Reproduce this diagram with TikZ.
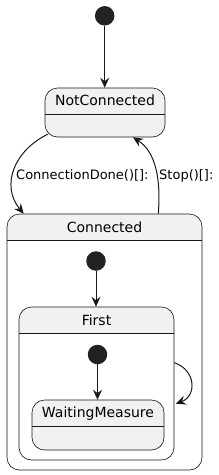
\documentclass[tikz,border=0pt]{standalone}
\usepackage{fontspec}
\setmainfont{DejaVu Sans}
\usetikzlibrary{arrows.meta,calc}
\definecolor{sfill}{HTML}{F1F1F1}
\definecolor{sline}{HTML}{181818}
\definecolor{dotc}{HTML}{222222}
\begin{document}
\begin{tikzpicture}[x=1pt,y=-1pt,
  hdrline/.style={draw=sline,line width=0.6pt,sharp corners},
  simplestate/.style={draw=sline,line width=0.6pt,fill=sfill,rounded corners=12.5pt,inner sep=0pt,
    path picture={\draw[hdrline] ([yshift=-26pt]path picture bounding box.north west) -- ([yshift=-26pt]path picture bounding box.north east);}},
  compstate/.style={draw=sline,line width=0.6pt,fill=white,rounded corners=12.5pt,inner sep=0pt,
    path picture={\fill[sfill,sharp corners] (path picture bounding box.north west) rectangle ([yshift=-26pt]path picture bounding box.north east);
      \draw[hdrline] ([yshift=-26pt]path picture bounding box.north west) -- ([yshift=-26pt]path picture bounding box.north east);}},
  sname/.style={font=\fontsize{14}{16}\selectfont,inner sep=0pt,text=black},
  elbl/.style={font=\fontsize{13}{15}\selectfont,inner sep=0pt,text=black},
  initdot/.style={circle,fill=dotc,minimum size=19.5pt,inner sep=0pt},
  trans/.style={draw=sline,line width=1pt,-{Stealth[length=10pt,width=9pt,inset=3.5pt]}}
]
\useasboundingbox (0,0) rectangle (218,475);

% states
\node[simplestate,minimum width=120pt,minimum height=49pt] (nc) at (105,112.5) {};
\node[sname] (tnc) at (105,100.5) {NotConnected};

\node[compstate,minimum width=195pt,minimum height=256pt] (con) at (104.5,342) {};
\node[sname] (tcon) at (104.5,227.5) {Connected};

\node[compstate,minimum width=155pt,minimum height=153pt] (first) at (96.5,383.5) {};
\node[sname] (tfirst) at (96.5,320.5) {First};

\node[simplestate,minimum width=132pt,minimum height=50pt] (wm) at (98,425) {};
\node[sname] (twm) at (98,414) {WaitingMeasure};

% initial dots
\node[initdot] (i1) at (104.7,15.8) {};
\node[initdot] (i2) at (96,261) {};
\node[initdot] (i3) at (97.5,354.5) {};

% transitions
\draw[trans] (i1.south) -- (i1.south |- nc.north);
\draw[trans] (i2.south) -- (i2.south |- first.north);
\draw[trans] (i3.south) -- (i3.south |- wm.north);

\coordinate (cdA) at ([shift={(3pt,3pt)}]nc.south west);
\coordinate (cdB) at ([xshift=17pt]con.north west);
\draw[trans] (cdA) .. controls (15,150) and (0,185) .. (cdB);

\coordinate (stA) at ([xshift=-44pt]con.north east);
\coordinate (stB) at ([xshift=28pt]nc.south);
\draw[trans] (stA) .. controls (161,180) and (156,152) .. (stB);

\coordinate (slA) at ([yshift=-56pt]first.north east);
\coordinate (slB) at ([shift={(1.5pt,-97pt)}]first.north east);
\draw[trans] (slA) .. controls (196,370) and (197,396) .. (slB);

% labels
\node[elbl,anchor=west] (lcd) at (16,175.5) {ConnectionDone()[]:};
\node[elbl,anchor=west] (lst) at (159,175.5) {Stop()[]:};
\end{tikzpicture}
\end{document}
